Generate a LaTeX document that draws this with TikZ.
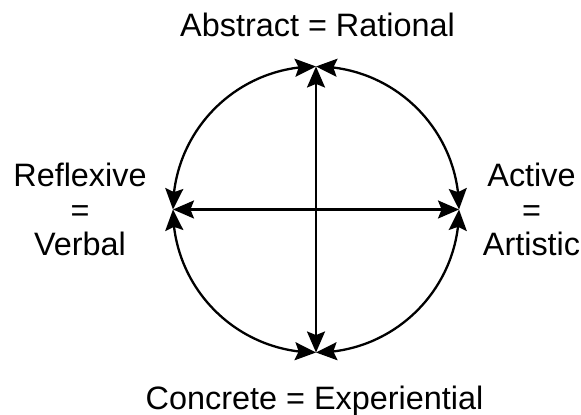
\documentclass[tikz,border=0pt]{standalone}
\usepackage{fontspec}
\setmainfont{Liberation Sans}
\usetikzlibrary{arrows.meta,bending}
\begin{document}
\begin{tikzpicture}[x=0.5pt,y=0.5pt,
  lbl/.style={font=\fontsize{16.2}{17.2}\selectfont, inner sep=0pt, align=center},
  tip/.tip={Stealth[length=10.5pt,width=9pt,inset=1.8pt]},
  conn/.style={line width=1.15pt, tip-tip}]
\useasboundingbox (0,0) rectangle (581,415);
\def\R{143}
\coordinate (C) at (316,205.5);
\coordinate (T) at (316,348.5);
\coordinate (B) at (316,62.5);
\coordinate (L) at (173,205.5);
\coordinate (Rt) at (459,205.5);
% arcs
\draw[conn] (T) arc[start angle=90,end angle=0,radius=\R];
\draw[conn] (Rt) arc[start angle=0,end angle=-90,radius=\R];
\draw[conn] (B) arc[start angle=270,end angle=180,radius=\R];
\draw[conn] (L) arc[start angle=180,end angle=90,radius=\R];
% axes
\draw[conn] (B) -- (T);
\draw[conn] (L) -- (Rt);
% labels
\node[lbl, anchor=base] (top) at (317.5,378) {Abstract = Rational};
\node[lbl, anchor=base] (bot) at (314.5,5) {Concrete = Experiential};
\node[lbl] (left) at (80,205.5) {Reflexive\\=\\Verbal};
\node[lbl] (right) at (531.5,205.5) {Active\\=\\Artistic};
\end{tikzpicture}
\end{document}
